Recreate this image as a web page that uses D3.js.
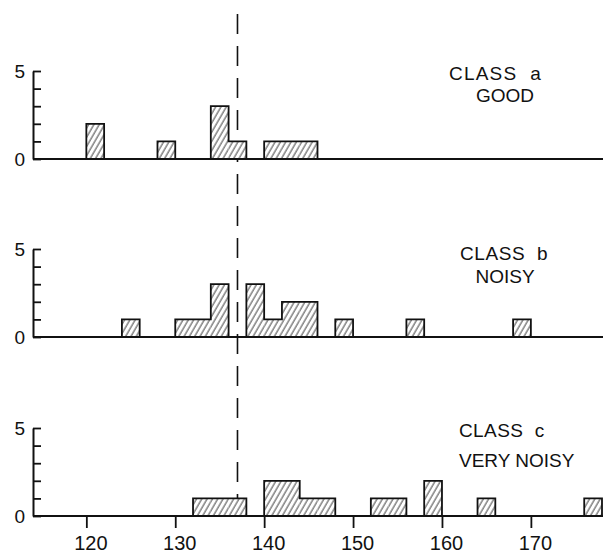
<!DOCTYPE html>
<html><head><meta charset="utf-8">
<script src="https://cdn.jsdelivr.net/npm/d3@7"></script>
<style>body{margin:0;background:#fff}svg{display:block}</style>
</head><body>
<script>
// ---- data ----
const binWidth = 2;
const classA_bins   = [120,128,134,136,140,142,144];
const classA_counts = [2,1,3,1,1,1,1];
const classB_bins   = [124,130,132,134,138,140,142,144,148,156,168];
const classB_counts = [1,1,1,3,3,1,2,2,1,1,1];
const classC_bins   = [132,134,136,140,142,144,146,152,154,158,164,176];
const classC_counts = [1,1,1,2,2,1,1,1,1,2,1,1];
const classLabels   = ["CLASS  a","CLASS  b","CLASS  c"];
const qualityLabels = ["GOOD","NOISY","VERY NOISY"];
const xTickValues   = [120,130,140,150,160,170];
const yTickValues   = [0,1,2,3,4,5];
const yLabelValues  = [0,5];
const referenceValue = 137;
const xDomain = [114,178];

// ---- layout ----
const W = 603, H = 556;
const baselines = [159,337,516];
const panelH = 88;
const labelLayout = [
  {cx:449, cy:-79, cAnchor:"start", ls:1.2, qx:505, qy:-57, qAnchor:"middle"},
  {cx:460, cy:-77, cAnchor:"start", ls:0.6, qx:505, qy:-54, qAnchor:"middle"},
  {cx:459, cy:-79, cAnchor:"start", ls:0.4, qx:459, qy:-49, qAnchor:"start"}
];
const font = "'Liberation Sans', Arial, sans-serif";

const svg = d3.select("body").append("svg").attr("width",W).attr("height",H);
const defs = svg.append("defs");
const pat = defs.append("pattern").attr("id","hatch").attr("patternUnits","userSpaceOnUse")
  .attr("width",4.6).attr("height",10).attr("patternTransform","rotate(30)");
pat.append("rect").attr("width",4.6).attr("height",10).attr("fill","#fff");
pat.append("line").attr("x1",1).attr("y1",0).attr("x2",1).attr("y2",10)
  .attr("stroke","#222").attr("stroke-width",0.9);

const x = d3.scaleLinear().domain(xDomain).range([33,602]);

const panels = [
  {bins:classA_bins, counts:classA_counts},
  {bins:classB_bins, counts:classB_counts},
  {bins:classC_bins, counts:classC_counts}
];
const yScales = baselines.map(b => d3.scaleLinear().domain([0,5]).range([b, b-panelH]));

// dashed reference line (behind bars)
svg.append("line")
  .attr("x1",x(referenceValue)).attr("x2",x(referenceValue))
  .attr("y1",14).attr("y2",yScales[2](1))
  .attr("stroke","#111").attr("stroke-width",1.6)
  .attr("stroke-dasharray","20,12");

const allBins = d3.range(xDomain[0], xDomain[1], binWidth);

panels.forEach((p,i) => {
  const y = yScales[i];
  const g = svg.append("g");
  const data = p.bins.map((b,j)=>({x0:b, n:p.counts[j]}));
  g.selectAll("rect").data(data).join("rect")
    .attr("x", d=>x(d.x0)).attr("width", d=>x(d.x0+binWidth)-x(d.x0))
    .attr("y", d=>y(d.n)).attr("height", d=>y(0)-y(d.n))
    .attr("fill","url(#hatch)");
  const countMap = new Map(data.map(d=>[d.x0,d.n]));
  const pts = allBins.map(b=>[b, countMap.get(b)||0]).concat([[xDomain[1],0]]);
  g.append("path")
    .attr("d", d3.line().x(d=>x(d[0])).y(d=>y(d[1])).curve(d3.curveStepAfter)(pts))
    .attr("fill","none").attr("stroke","#111").attr("stroke-width",1.8);

  // x baseline / axis
  const xa = d3.axisBottom(x).tickValues(i===2 ? xTickValues : []).tickSizeInner(12).tickSizeOuter(0).tickPadding(8);
  const gx = svg.append("g").attr("transform",`translate(0,${y(0)})`).call(xa);
  gx.select(".domain").attr("stroke","#111").attr("stroke-width",2.2)
    .attr("d", `M${x(xDomain[0])},0H${W}`);
  gx.selectAll(".tick line").attr("stroke","#111").attr("stroke-width",1.8);
  gx.selectAll(".tick text").attr("font-family",font).attr("font-size",20).attr("fill","#111").attr("dx",4);

  // y axis
  const ya = d3.axisLeft(y).tickValues(yTickValues).tickSizeInner(-8).tickSizeOuter(0).tickPadding(8)
    .tickFormat(d => yLabelValues.includes(d) ? d : "");
  const gy = svg.append("g").attr("transform",`translate(${x(xDomain[0])},0)`).call(ya);
  gy.select(".domain").attr("stroke","#111").attr("stroke-width",2);
  gy.selectAll(".tick line").attr("stroke","#111").attr("stroke-width",1.8);
  gy.selectAll(".tick text").attr("font-family",font).attr("font-size",19).attr("fill","#111");

  // labels
  const L = labelLayout[i];
  svg.append("text").attr("x",L.cx).attr("y",y(0)+L.cy).attr("text-anchor",L.cAnchor)
    .attr("font-family",font).attr("font-size",19).attr("letter-spacing",L.ls).attr("fill","#111")
    .attr("xml:space","preserve").style("white-space","pre").text(classLabels[i]);
  svg.append("text").attr("x",L.qx).attr("y",y(0)+L.qy).attr("text-anchor",L.qAnchor)
    .attr("font-family",font).attr("font-size",19).attr("fill","#111").text(qualityLabels[i]);
});
</script>
</body></html>
